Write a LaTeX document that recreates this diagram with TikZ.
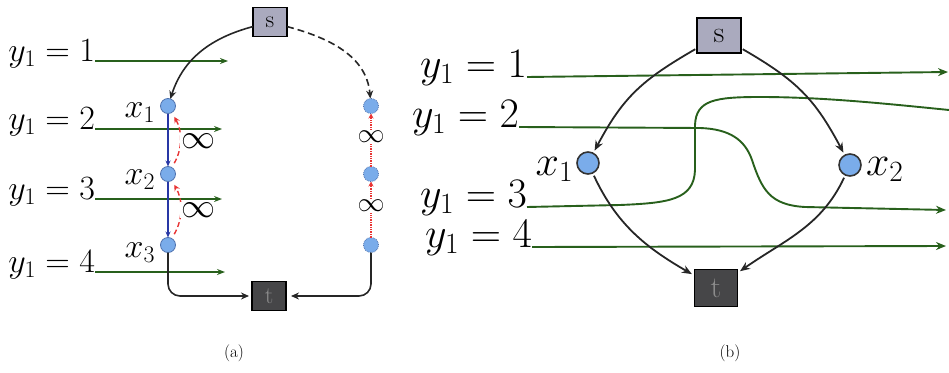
\documentclass[tikz,border=0pt]{standalone}
\usepackage{fix-cm}
\usetikzlibrary{arrows.meta}
\definecolor{gline}{RGB}{40,96,28}
\definecolor{cfill}{RGB}{122,172,234}
\definecolor{cdraw}{RGB}{80,115,175}
\definecolor{sfill}{RGB}{170,170,190}
\definecolor{tfill}{RGB}{70,70,72}
\definecolor{bluearr}{RGB}{40,55,165}
\definecolor{redarr}{RGB}{232,52,52}
\newcommand{\FontA}{\fontsize{34}{38}\selectfont}
\newcommand{\FontB}{\fontsize{42}{46}\selectfont}
\begin{document}
\begin{tikzpicture}[x=1pt,y=1pt,
  every node/.style={inner sep=0pt,outer sep=0pt},
  grnA/.style={draw=gline,line width=1.6pt,-{Stealth[length=8pt,width=6pt]}},
  grnB/.style={draw=gline,line width=1.9pt,-{Stealth[length=10pt,width=8pt]}},
  grnBplain/.style={draw=gline,line width=1.9pt},
  sboxA/.style={draw=black,line width=1.2pt,fill=sfill,minimum width=34pt,minimum height=29pt,font=\fontsize{24}{26}\selectfont},
  tboxA/.style={draw=black,line width=1.2pt,fill=tfill,text=black!45,minimum width=34pt,minimum height=29pt,font=\fontsize{24}{26}\selectfont},
  sboxB/.style={sboxA,minimum width=44pt,minimum height=35pt,font=\fontsize{30}{32}\selectfont},
  tboxB/.style={tboxA,minimum width=43pt,minimum height=37pt,font=\fontsize{30}{32}\selectfont},
  varA/.style={circle,fill=cfill,draw=cdraw,line width=0.8pt,minimum size=15pt},
  varR/.style={varA,densely dotted},
  varB/.style={circle,fill=cfill,draw=black!80,line width=1.6pt,minimum size=22pt},
  blkA/.style={draw=black!85,line width=1.6pt,-{Stealth[length=8pt,width=7pt]}},
  blkB/.style={draw=black!85,line width=1.8pt,-{Stealth[length=10pt,width=8pt]}},
  bluA/.style={draw=bluearr,line width=1.4pt,-{Stealth[length=6pt,width=5pt]}},
  redA/.style={draw=redarr,line width=1.4pt,dash pattern=on 5pt off 3pt,-{Stealth[length=6pt,width=6pt]}},
  redR/.style={draw=redarr,line width=1.4pt,densely dotted,-{Stealth[length=5pt,width=5pt]}},
  infA/.style={fill=white,inner sep=1pt,font=\FontA},
  infR/.style={fill=white,inner sep=1pt,font=\fontsize{27}{29}\selectfont},
  captext/.style={font=\fontsize{17}{19}\selectfont}]
\useasboundingbox (0,0) rectangle (949,-372);

% ---------------- panel (a) ----------------
\node[anchor=base east,font=\FontA] (ya1) at (95,-61) {$y_1=1$};
\node[anchor=base east,font=\FontA] (ya2) at (95,-129) {$y_1=2$};
\node[anchor=base east,font=\FontA] (ya3) at (95,-199) {$y_1=3$};
\node[anchor=base east,font=\FontA] (ya4) at (95,-272) {$y_1=4$};
\coordinate (ya1e) at (228,-61);
\coordinate (ya2e) at (222,-129);
\coordinate (ya3e) at (222,-199);
\coordinate (ya4e) at (225,-272);
\draw[grnA] (ya1.base east) -- (ya1e);
\draw[grnA] (ya2.base east) -- (ya2e);
\draw[grnA] (ya3.base east) -- (ya3e);
\draw[grnA] (ya4.base east) -- (ya4e);

\node[sboxA] (sA) at (270,-22) {s};
\node[tboxA] (tA) at (269,-296) {t};
\node[varA] (a1) at (168,-106) {};
\node[varA] (a2) at (168,-174) {};
\node[varA] (a3) at (168,-245) {};
\node[anchor=base east,font=\FontA] (xa1) at (155,-117) {$x_1$};
\node[anchor=base east,font=\FontA] (xa2) at (155,-184) {$x_2$};
\node[anchor=base east,font=\FontA] (xa3) at (155,-257) {$x_3$};
\node[varR] (r1) at (371,-106) {};
\node[varR] (r2) at (371,-174) {};
\node[varR] (r3) at (371,-245) {};

\draw[bluA] (a1) -- (a2);
\draw[bluA] (a2) -- (a3);
\draw[redA,shorten <=5pt,shorten >=5pt] (a2) to[out=60,in=-60] (a1);
\draw[redA,shorten <=5pt,shorten >=5pt] (a3) to[out=60,in=-60] (a2);
\node[infA] (ia1) at (198,-141) {$\infty$};
\node[infA] (ia2) at (198,-210) {$\infty$};

\draw[redR] (r2) -- (r1);
\draw[redR] (r3) -- (r2);
\node[infR] (ir1) at (371,-137) {$\infty$};
\node[infR] (ir2) at (371,-206) {$\infty$};

\draw[blkA] (sA) to[out=195,in=72] (a1);
\draw[blkA,dash pattern=on 7pt off 4pt] (sA) to[out=-15,in=95] (r1);
\draw[blkA,rounded corners=12pt,shorten >=3pt] (a3) |- (tA);
\draw[blkA,rounded corners=12pt,shorten >=5pt] (r3) |- (tA);

\node[captext] (capA) at (234,-353) {(a)};

% ---------------- panel (b) ----------------
\node[anchor=base east,font=\FontB] (yb1) at (527,-77) {$y_1=1$};
\node[anchor=base east,font=\FontB] (yb2) at (519,-127) {$y_1=2$};
\node[anchor=base east,font=\FontB] (yb3) at (527,-207) {$y_1=3$};
\node[anchor=base east,font=\FontB] (yb4) at (532,-247) {$y_1=4$};
\coordinate (yb1e) at (948,-72);
\coordinate (yb2e) at (946,-210);
\coordinate (yb3e) at (949,-110);
\coordinate (yb4e) at (946,-246);
\draw[grnB] (yb1.base east) -- (yb1e);
\draw[grnB] (yb2.base east) -- (700,-128)
   .. controls (730,-129) and (745,-140) .. (752,-160)
   .. controls (762,-190) and (770,-205) .. (805,-207) -- (yb2e);
\draw[grnBplain] (yb3.base east) -- (620,-205)
   .. controls (668,-203) and (694,-200) .. (695,-170) -- (695,-125)
   .. controls (696,-100) and (715,-97) .. (760,-97)
   .. controls (820,-97) and (880,-103) .. (yb3e);
\draw[grnB] (yb4.base east) -- (yb4e);

\node[sboxB] (sB) at (719,-35.5) {s};
\node[tboxB] (tB) at (716,-288) {t};
\node[varB] (b1) at (588,-163) {};
\node[varB] (b2) at (850,-165) {};
\node[anchor=base east,font=\FontB] (xb1) at (573,-175) {$x_1$};
\node[anchor=base west,font=\FontB] (xb2) at (866,-175) {$x_2$};

\draw[blkB,shorten <=2pt,shorten >=3pt] (sB) to[out=210,in=62,looseness=1.1] (b1);
\draw[blkB,shorten <=2pt,shorten >=3pt] (sB) to[out=-30,in=118,looseness=1.1] (b2);
\draw[blkB,shorten <=3pt,shorten >=3pt] (b1) to[out=-65,in=150] (tB);
\draw[blkB,shorten <=3pt,shorten >=3pt] (b2) to[out=245,in=35] (tB);

\node[captext] (capB) at (730,-353) {(b)};
\end{tikzpicture}
\end{document}
